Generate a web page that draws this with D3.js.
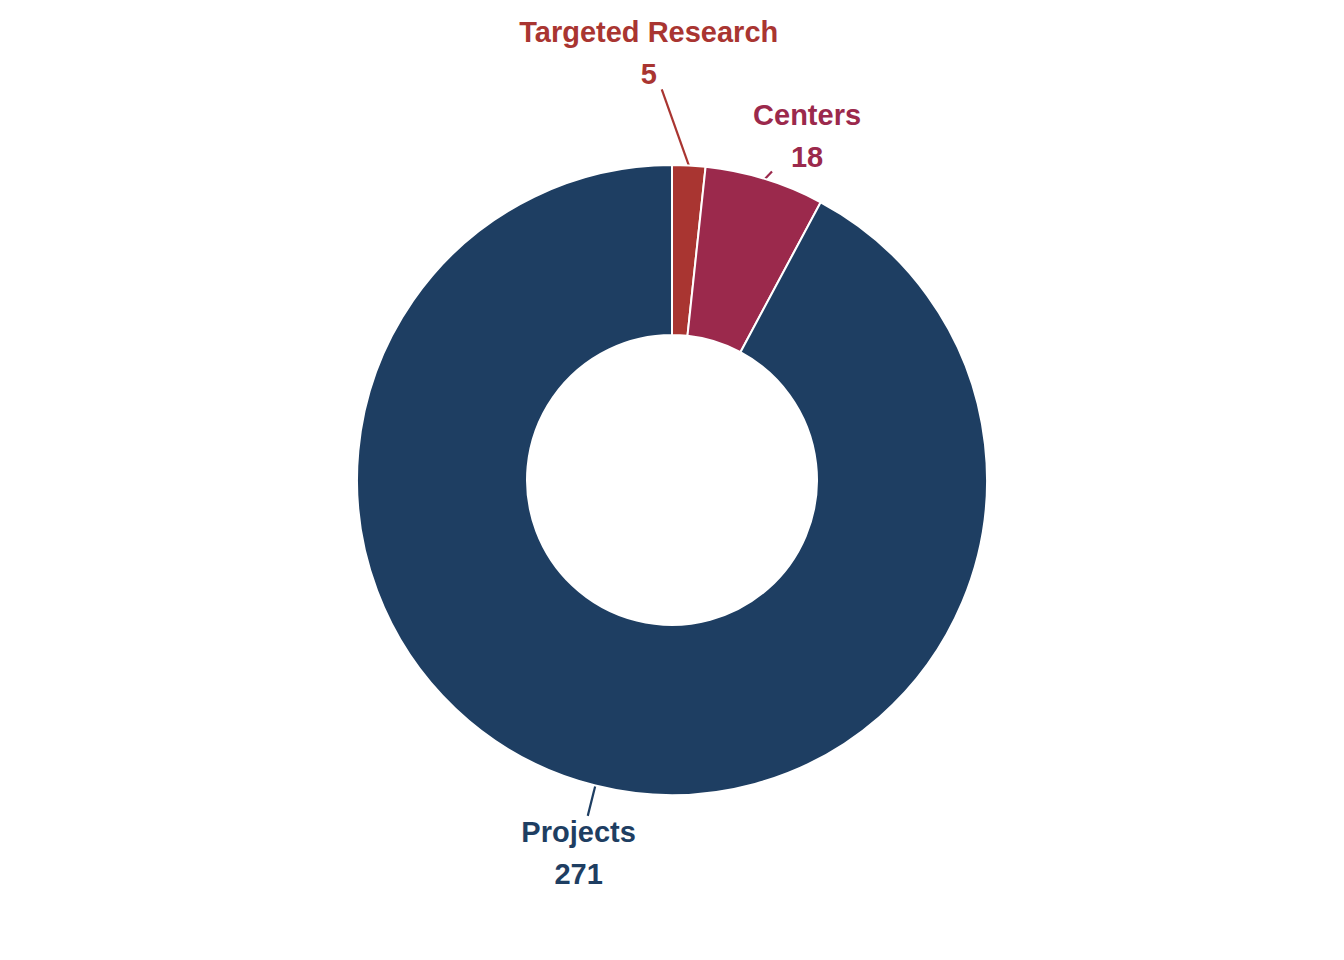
<!DOCTYPE html>
<html><head><meta charset="utf-8">
<script src="https://cdn.jsdelivr.net/npm/d3@7"></script>
<style>html,body{margin:0;padding:0;background:#fff;}</style>
</head><body>
<svg id="chart" width="1344" height="960"></svg>
<script>
const categories = ["Targeted Research", "Centers", "Projects"];
const values = [5, 18, 271];
const colors = ["#A93531", "#9B294C", "#1E3E62"];

const W = 1344, H = 960;
const cx = 672, cy = 480;
const outerR = 315, innerR = 145;
const labelR = 384;
const fontSize = 29, lineGap = 42;
const boxPad = 19;

const svg = d3.select("#chart");
const g = svg.append("g").attr("transform", `translate(${cx},${cy})`);

const data = categories.map((c, i) => ({cat: c, value: values[i], color: colors[i]}));
const pie = d3.pie().sort(null).value(d => d.value);
const arcs = pie(data);
const arc = d3.arc().innerRadius(innerR).outerRadius(outerR);

// label layout
const labG = g.append("g");
const labels = arcs.map(a => {
  const mid = (a.startAngle + a.endAngle) / 2;
  const lx = labelR * Math.sin(mid), ly = -labelR * Math.cos(mid);
  const px = outerR * Math.sin(mid), py = -outerR * Math.cos(mid);
  return {a, mid, x: lx, y: ly, px, py};
});
// measure
labels.forEach(l => {
  const t = labG.append("text").attr("font-family", "Liberation Sans, Arial, sans-serif")
    .attr("font-weight", "bold").attr("font-size", fontSize).text(l.a.data.cat);
  const t2 = labG.append("text").attr("font-family", "Liberation Sans, Arial, sans-serif")
    .attr("font-weight", "bold").attr("font-size", fontSize).text(String(l.a.data.value));
  l.w = Math.max(t.node().getComputedTextLength(), t2.node().getComputedTextLength());
  l.h = lineGap + fontSize * 0.73;
  t.remove(); t2.remove();
});
// simple repel: separate overlapping boxes vertically, moving diagonally
for (let iter = 0; iter < 10; iter++) {
  for (let i = 0; i < labels.length; i++) {
    for (let j = i + 1; j < labels.length; j++) {
      const A = labels[i], B = labels[j];
      const xOverlap = Math.abs(A.x - B.x) < (A.w + B.w) / 2;
      const need = (A.h + B.h) / 2 + boxPad - Math.abs(A.y - B.y);
      if (xOverlap && need > 0.5) {
        const sx = Math.sign(B.x - A.x) || 1, sy = Math.sign(B.y - A.y) || 1;
        const wa = 2 / 3, wb = 1 / 3;
        A.x -= sx * need * wa; A.y -= sy * need * wa;
        B.x += sx * need * wb; B.y += sy * need * wb;
      }
    }
  }
}

// segments
labels.forEach(l => {
  const pad = 5;
  const x0 = l.x - l.w / 2 - pad, x1 = l.x + l.w / 2 + pad;
  const y0 = l.y - l.h / 2 - pad, y1 = l.y + l.h / 2 + pad;
  const dx = l.x - l.px, dy = l.y - l.py;
  const tx = dx !== 0 ? ((dx > 0 ? x0 : x1) - l.px) / dx : -Infinity;
  const ty = dy !== 0 ? ((dy > 0 ? y0 : y1) - l.py) / dy : -Infinity;
  const t = Math.max(tx, ty);
  if (t > 0 && t < 1) {
    g.append("line")
      .attr("x1", l.px).attr("y1", l.py)
      .attr("x2", l.px + dx * t).attr("y2", l.py + dy * t)
      .attr("stroke", l.a.data.color).attr("stroke-width", 2.2);
  }
});

// slices
g.selectAll("path.slice").data(arcs).enter().append("path")
  .attr("class", "slice")
  .attr("d", arc)
  .attr("fill", d => d.data.color)
  .attr("stroke", "#ffffff").attr("stroke-width", 2);

// label texts
labels.forEach(l => {
  const txt = labG.append("text")
    .attr("font-family", "Liberation Sans, Arial, sans-serif")
    .attr("font-weight", "bold").attr("font-size", fontSize)
    .attr("fill", l.a.data.color).attr("text-anchor", "middle");
  txt.append("tspan").attr("x", l.x).attr("y", l.y - l.h / 2 + fontSize * 0.73).text(l.a.data.cat);
  txt.append("tspan").attr("x", l.x).attr("y", l.y - l.h / 2 + fontSize * 0.73 + lineGap).text(String(l.a.data.value));
});
labG.raise();
</script>
</body></html>
